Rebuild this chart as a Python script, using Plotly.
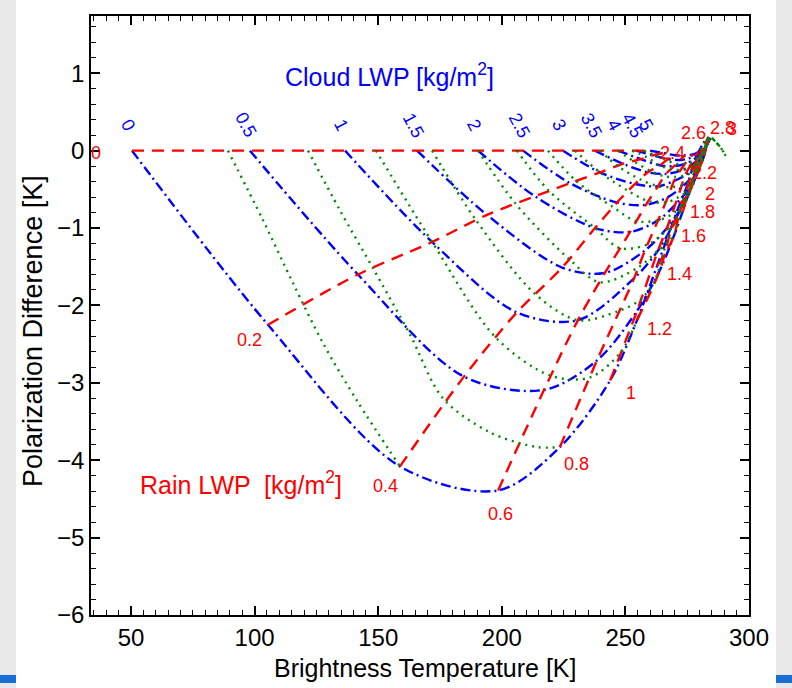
import math
import plotly.graph_objects as go

# ---------------------------------------------------------------------------
# Simulated brightness temperature (K) and polarization difference (K)
# Rows: cloud liquid water path, columns: rain liquid water path (kg/m^2)
# ---------------------------------------------------------------------------
RAIN = [0.0, 0.2, 0.4, 0.6, 0.8, 1.0, 1.2, 1.4, 1.6, 1.8, 2.0, 2.2, 2.4, 2.6, 2.8, 3.0]
RAIN_LABELS = ["0", "0.2", "0.4", "0.6", "0.8", "1", "1.2", "1.4", "1.6", "1.8",
               "2", "2.2", "2.4", "2.6", "2.8", "3"]
CLOUD = [0.0, 0.5, 1.0, 1.5, 2.0, 2.5, 3.0, 3.5, 4.0, 4.5, 5.0]
CLOUD_LABELS = ["0", "0.5", "1", "1.5", "2", "2.5", "3", "3.5", "4", "4.5", "5"]

TB_C00 = [50.4, 105.4, 158.8, 198.5, 223.5, 243.8, 254.7, 262.8, 268.4, 272.1, 274.9, 276.9, 278.6, 280.2, 281.8, 283.4]
PD_C00 = [0.0, -2.25, -4.08, -4.39, -3.83, -2.97, -2.19, -1.49, -1.00, -0.68, -0.46, -0.25, -0.10, 0.02, 0.11, 0.17]
TB_C05 = [98.1, 141.8, 184.7, 217.1, 238.5, 254.7, 264.0, 269.3, 272.9, 275.3, 277.3, 279.0, 280.2, 281.4, 282.6, 283.4]
PD_C05 = [0.0, -1.60, -2.92, -3.09, -2.71, -2.07, -1.54, -1.13, -0.81, -0.57, -0.38, -0.23, -0.10, 0.01, 0.10, 0.16]
TB_C10 = [136.6, 171.8, 206.1, 230.8, 253.5, 263.2, 268.9, 272.5, 275.3, 277.3, 279.0, 280.2, 281.0, 282.2, 283.0, 283.8]
PD_C10 = [0.0, -1.18, -2.09, -2.19, -1.65, -1.29, -0.98, -0.74, -0.55, -0.38, -0.25, -0.14, -0.05, 0.03, 0.11, 0.16]
TB_C15 = [165.7, 194.0, 224.4, 241.7, 257.9, 266.8, 272.1, 275.3, 277.3, 279.0, 280.2, 281.0, 281.8, 282.6, 283.0, 283.8]
PD_C15 = [0.0, -0.83, -1.51, -1.58, -1.29, -1.00, -0.77, -0.59, -0.43, -0.30, -0.20, -0.11, -0.03, 0.05, 0.11, 0.16]
TB_C20 = [190.4, 213.4, 237.7, 251.9, 263.2, 270.1, 274.5, 277.3, 279.0, 280.2, 281.0, 281.8, 282.2, 282.6, 283.4, 283.8]
PD_C20 = [0.0, -0.59, -1.00, -1.05, -0.90, -0.70, -0.54, -0.41, -0.30, -0.21, -0.14, -0.07, -0.01, 0.06, 0.12, 0.16]
TB_C25 = [208.6, 227.6, 246.6, 258.3, 267.2, 272.5, 276.1, 278.2, 279.8, 280.6, 281.4, 282.2, 282.6, 283.0, 283.4, 283.8]
PD_C25 = [0.0, -0.42, -0.67, -0.70, -0.60, -0.48, -0.37, -0.28, -0.20, -0.12, -0.07, -0.02, 0.03, 0.08, 0.12, 0.16]
TB_C30 = [224.8, 239.7, 253.9, 263.2, 269.7, 274.1, 276.9, 279.0, 280.2, 281.0, 281.8, 282.2, 282.6, 283.0, 283.4, 283.8]
PD_C30 = [0.0, -0.28, -0.43, -0.46, -0.39, -0.32, -0.24, -0.17, -0.11, -0.06, -0.02, 0.02, 0.06, 0.10, 0.14, 0.16]
TB_C35 = [237.7, 249.0, 259.1, 266.4, 272.1, 276.1, 278.6, 280.2, 281.0, 281.8, 282.2, 282.6, 283.0, 283.4, 283.8, 284.2]
PD_C35 = [0.0, -0.17, -0.28, -0.30, -0.26, -0.20, -0.14, -0.08, -0.05, -0.01, 0.03, 0.06, 0.08, 0.11, 0.14, 0.16]
TB_C40 = [247.0, 256.3, 264.0, 269.7, 274.1, 277.3, 279.4, 280.6, 281.4, 282.2, 282.6, 283.0, 283.4, 283.8, 283.8, 284.2]
PD_C40 = [0.0, -0.11, -0.19, -0.20, -0.17, -0.12, -0.07, -0.03, 0.01, 0.03, 0.06, 0.08, 0.11, 0.12, 0.15, 0.16]
TB_C45 = [254.3, 261.2, 267.2, 272.1, 275.7, 278.6, 280.2, 281.4, 282.2, 282.6, 283.0, 283.4, 283.4, 283.8, 283.8, 284.2]
PD_C45 = [0.0, -0.06, -0.11, -0.12, -0.10, -0.06, -0.02, 0.01, 0.03, 0.06, 0.08, 0.10, 0.12, 0.14, 0.15, 0.16]
TB_C50 = [260.0, 265.2, 270.1, 274.1, 277.3, 279.4, 281.0, 281.8, 282.6, 283.0, 283.4, 283.4, 283.8, 283.8, 284.2, 284.2]
PD_C50 = [0.0, -0.03, -0.06, -0.06, -0.05, -0.02, 0.01, 0.03, 0.06, 0.07, 0.10, 0.11, 0.12, 0.14, 0.15, 0.16]

# Lines of constant total water path (cloud + rain), kg/m^2
TOTAL = [0.4, 0.8, 1.2, 1.6, 2.0, 2.4, 2.8, 3.2, 3.6, 4.0, 4.4, 4.8]
TB_T04 = [89.2, 103.4, 115.5, 127.7, 141.4, 158.8]
PD_T04 = [0.0, -0.90, -1.71, -2.49, -3.23, -4.08]
TB_T08 = [121.6, 134.5, 147.9, 162.9, 176.2, 195.2, 214.2, 223.5]
PD_T08 = [0.0, -0.77, -1.52, -2.38, -3.20, -3.64, -3.83, -3.83]
TB_T12 = [149.1, 171.8, 197.7, 219.9, 235.7, 248.2, 254.7]
PD_T12 = [0.0, -1.18, -2.42, -2.91, -2.93, -2.60, -2.19]
TB_T16 = [171.8, 189.6, 213.4, 230.8, 247.4, 256.3, 262.0, 265.2, 268.4]
PD_T16 = [0.0, -0.90, -1.85, -2.19, -2.07, -1.92, -1.67, -1.34, -1.00]
TB_T20 = [190.4, 205.7, 227.2, 239.7, 255.1, 263.2, 266.8, 270.1, 272.1, 273.3, 274.9]
PD_T20 = [0.0, -0.69, -1.40, -1.70, -1.51, -1.29, -1.21, -1.05, -0.85, -0.64, -0.46]
TB_T24 = [206.1, 219.1, 237.7, 247.8, 259.1, 266.0, 270.1, 272.5, 274.5, 275.7, 276.9, 277.8, 278.6]
PD_T24 = [0.0, -0.52, -1.00, -1.26, -1.21, -1.05, -0.90, -0.74, -0.65, -0.54, -0.39, -0.24, -0.10]
TB_T28 = [218.7, 230.0, 245.0, 254.3, 263.2, 268.9, 272.5, 274.9, 276.1, 277.3, 278.2, 279.4, 279.8, 280.6, 281.8]
PD_T28 = [0.0, -0.39, -0.73, -0.91, -0.90, -0.82, -0.72, -0.61, -0.50, -0.38, -0.30, -0.21, -0.10, 0.02, 0.11]
TB_T32 = [229.6, 239.7, 251.1, 259.1, 266.4, 270.9, 274.5, 276.5, 277.8, 278.6, 279.4, 280.2, 280.6, 281.4, 282.6, 283.4, 284.6]
PD_T32 = [0.0, -0.28, -0.52, -0.65, -0.67, -0.61, -0.54, -0.48, -0.41, -0.32, -0.23, -0.14, -0.07, 0.01, 0.11, 0.17, 0.17]
TB_T36 = [239.7, 247.0, 255.9, 263.2, 268.9, 272.9, 275.7, 277.8, 279.0, 279.8, 280.2, 281.0, 281.4, 282.2, 282.6, 283.4, 285.0, 286.6]
PD_T36 = [0.0, -0.20, -0.37, -0.46, -0.47, -0.45, -0.41, -0.36, -0.30, -0.25, -0.19, -0.11, -0.05, 0.03, 0.11, 0.16, 0.16, 0.11]
TB_T40 = [247.0, 253.5, 260.0, 265.6, 270.5, 274.1, 276.5, 278.2, 279.8, 280.2, 281.0, 281.4, 281.8, 282.6, 283.0, 283.8, 285.0, 286.6, 288.3]
PD_T40 = [0.0, -0.14, -0.26, -0.33, -0.34, -0.32, -0.29, -0.25, -0.23, -0.17, -0.14, -0.08, -0.02, 0.05, 0.11, 0.16, 0.16, 0.11, 0.05]
TB_T44 = [252.7, 258.3, 264.0, 268.4, 272.5, 275.7, 277.8, 279.8, 281.0, 282.2, 283.0, 283.8, 285.0, 286.6, 288.3, 289.9]
PD_T44 = [0.0, -0.08, -0.19, -0.24, -0.25, -0.23, -0.20, -0.15, -0.08, -0.01, 0.11, 0.16, 0.16, 0.11, 0.05, -0.03]
TB_T48 = [257.5, 262.0, 266.4, 270.5, 274.1, 276.9, 278.6, 279.8, 280.6, 281.4, 282.2, 282.6, 283.4, 283.8, 285.0, 286.6, 288.3, 289.9, 291.1]
PD_T48 = [0.0, -0.06, -0.12, -0.17, -0.17, -0.15, -0.12, -0.10, -0.06, -0.02, 0.02, 0.07, 0.12, 0.16, 0.16, 0.11, 0.05, -0.03, -0.10]

TB_ROWS = [TB_C00, TB_C05, TB_C10, TB_C15, TB_C20, TB_C25, TB_C30, TB_C35, TB_C40, TB_C45, TB_C50]
PD_ROWS = [PD_C00, PD_C05, PD_C10, PD_C15, PD_C20, PD_C25, PD_C30, PD_C35, PD_C40, PD_C45, PD_C50]
TB_TOT = [TB_T04, TB_T08, TB_T12, TB_T16, TB_T20, TB_T24, TB_T28, TB_T32, TB_T36, TB_T40, TB_T44, TB_T48]
PD_TOT = [PD_T04, PD_T08, PD_T12, PD_T16, PD_T20, PD_T24, PD_T28, PD_T32, PD_T36, PD_T40, PD_T44, PD_T48]

# ---------------------------------------------------------------------------
# Page geometry
# ---------------------------------------------------------------------------
W, H = 792, 688
ML, MR, MT, MB = 91, 43, 16, 73
PW, PH = W - ML - MR, H - MT - MB
X_RANGE = [33.8, 300.0]
Y_RANGE = [-6.0, 1.74]
SX = PW / (X_RANGE[1] - X_RANGE[0])   # px per K along x
SY = PH / (Y_RANGE[1] - Y_RANGE[0])   # px per K along y

BLUE = "#0000ff"
RED = "#ff0000"
GREEN = "#008a00"
FONT = "Liberation Sans, Arial, Helvetica, sans-serif"

fig = go.Figure()

# constant cloud LWP curves (rain varies)
for tb, pd_ in zip(TB_ROWS, PD_ROWS):
    fig.add_trace(go.Scatter(
        x=tb, y=pd_, mode="lines", hoverinfo="skip", showlegend=False,
        line=dict(color=BLUE, width=2.4, dash="10px,4px,2px,4px",
                  shape="spline", smoothing=0.9)))

# constant rain LWP curves (cloud varies)
for j in range(len(RAIN)):
    xs = [row[j] for row in TB_ROWS]
    ys = [row[j] for row in PD_ROWS]
    fig.add_trace(go.Scatter(
        x=xs, y=ys, mode="lines", hoverinfo="skip", showlegend=False,
        line=dict(color=RED, width=2.4, dash="12px,8px",
                  shape="spline" if j > 0 else "linear", smoothing=0.9)))

# constant total water path curves
for tb, pd_ in zip(TB_TOT, PD_TOT):
    fig.add_trace(go.Scatter(
        x=tb, y=pd_, mode="lines", hoverinfo="skip", showlegend=False,
        line=dict(color=GREEN, width=2.4, dash="2px,5px",
                  shape="spline", smoothing=0.9)))


# page-pixel helpers for paper-referenced items
def px_x(p):
    return (p - ML) / PW


def px_y(p):
    return (H - MB - p) / PH


annotations = []

# cloud LWP values above the zero line
for tb, lab in zip([row[0] for row in TB_ROWS], CLOUD_LABELS):
    annotations.append(dict(
        x=tb, y=0.33, text=lab, showarrow=False, textangle=62, xshift=-4,
        font=dict(family=FONT, size=18, color=BLUE)))

# rain LWP values placed just outside the cloud-free curve;
# the crowded labels near the convergence point get hand-set offsets (px)
LABEL_NUDGE = {0: (-36, 2), 11: (13, 3), 12: (-24, -5), 13: (-7, -16),
               14: (18, -14), 15: (24, -9)}
D = 24.0
n = len(RAIN)
for j, lab in enumerate(RAIN_LABELS):
    if j in LABEL_NUDGE:
        ox, oy = LABEL_NUDGE[j]
    else:
        a, b = max(j - 1, 0), min(j + 1, n - 1)
        dx = (TB_C00[b] - TB_C00[a]) * SX
        dy = -(PD_C00[b] - PD_C00[a]) * SY
        L = math.hypot(dx, dy) or 1.0
        ox, oy = -dy / L * D, dx / L * D
    annotations.append(dict(
        x=TB_C00[j], y=PD_C00[j], xshift=ox, yshift=-oy,
        text=lab, showarrow=False,
        font=dict(family=FONT, size=18, color=RED)))

annotations.append(dict(
    x=111.5, y=0.98, text="Cloud LWP [kg/m<sup>2</sup>]", showarrow=False,
    xanchor="left", font=dict(family=FONT, size=25, color=BLUE)))
annotations.append(dict(
    x=52.8, y=-4.30, text="Rain LWP  [kg/m<sup>2</sup>]", showarrow=False,
    xanchor="left", font=dict(family=FONT, size=25, color=RED)))

# axis titles
annotations.append(dict(
    xref="paper", yref="paper", x=px_x(425), y=px_y(668),
    xanchor="center", yanchor="middle",
    text="Brightness Temperature [K]", showarrow=False,
    font=dict(family=FONT, size=25, color="black")))
annotations.append(dict(
    xref="paper", yref="paper", x=px_x(33), y=px_y(331), textangle=-90,
    xanchor="center", yanchor="middle",
    text="Polarization Difference [K]", showarrow=False,
    font=dict(family=FONT, size=27, color="black")))

# page frame: grey margins, white sheet and blue corner marks
shapes = [
    dict(type="rect", xref="paper", yref="paper", layer="below",
         x0=px_x(16), x1=px_x(776), y0=px_y(H + 2), y1=px_y(-2),
         fillcolor="white", line=dict(width=0)),
    dict(type="rect", xref="paper", yref="paper", layer="below",
         x0=px_x(-2), x1=px_x(16), y0=px_y(683), y1=px_y(675),
         fillcolor="#1a6fd6", line=dict(width=0)),
    dict(type="rect", xref="paper", yref="paper", layer="below",
         x0=px_x(776), x1=px_x(W + 2), y0=px_y(683), y1=px_y(675),
         fillcolor="#1a6fd6", line=dict(width=0)),
]

axis_common = dict(
    showgrid=False, zeroline=False, showline=True, linecolor="black",
    linewidth=1.5, ticks="inside", tickcolor="black", tickwidth=1.5,
    mirror="allticks", tickfont=dict(family=FONT, size=24, color="black"),
)

fig.update_layout(
    width=W, height=H,
    margin=dict(l=ML, r=MR, t=MT, b=MB, autoexpand=False),
    paper_bgcolor="#e8e8e8", plot_bgcolor="white",
    shapes=shapes, annotations=annotations,
    xaxis=dict(range=X_RANGE, tickvals=[50, 100, 150, 200, 250, 300],
               ticklen=9,
               minor=dict(dtick=5, tick0=0, ticklen=5, ticks="inside",
                          tickcolor="black", tickwidth=1.2),
               **axis_common),
    yaxis=dict(range=Y_RANGE, tickvals=[1, 0, -1, -2, -3, -4, -5, -6],
               ticklen=9,
               minor=dict(dtick=0.2, tick0=0, ticklen=5, ticks="inside",
                          tickcolor="black", tickwidth=1.2),
               **axis_common),
)

fig.write_html("out.html")
